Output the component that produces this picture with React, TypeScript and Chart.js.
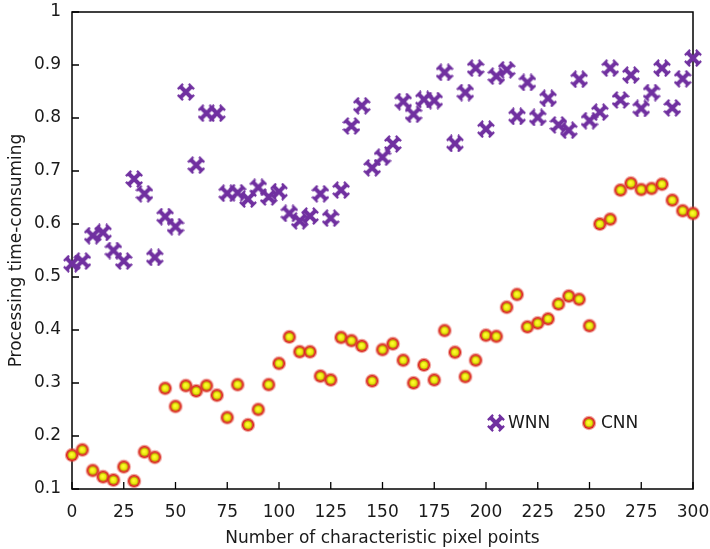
import React, { useEffect, useRef } from "react";
import { Chart, registerables } from "chart.js";

Chart.register(...registerables);

const xValues = [0, 5, 10, 15, 20, 25, 30, 35, 40, 45, 50, 55, 60, 65, 70, 75, 80, 85, 90, 95, 100, 105, 110, 115, 120, 125, 130, 135, 140, 145, 150, 155, 160, 165, 170, 175, 180, 185, 190, 195, 200, 205, 210, 215, 220, 225, 230, 235, 240, 245, 250, 255, 260, 265, 270, 275, 280, 285, 290, 295, 300];

const wnnValues = [0.525, 0.530, 0.578, 0.584, 0.550, 0.530, 0.685, 0.657, 0.537, 0.614, 0.595, 0.849, 0.711, 0.809, 0.809, 0.658, 0.659, 0.647, 0.669, 0.651, 0.661, 0.620, 0.606, 0.615, 0.657, 0.611, 0.664, 0.785, 0.823, 0.706, 0.726, 0.751, 0.831, 0.807, 0.835, 0.833, 0.886, 0.752, 0.848, 0.894, 0.779, 0.879, 0.891, 0.803, 0.867, 0.801, 0.837, 0.787, 0.777, 0.873, 0.795, 0.811, 0.894, 0.834, 0.881, 0.818, 0.848, 0.894, 0.819, 0.874, 0.913];

const cnnValues = [0.164, 0.174, 0.135, 0.123, 0.117, 0.142, 0.115, 0.170, 0.160, 0.290, 0.256, 0.295, 0.285, 0.295, 0.277, 0.235, 0.297, 0.221, 0.250, 0.297, 0.337, 0.387, 0.359, 0.359, 0.313, 0.306, 0.386, 0.380, 0.370, 0.304, 0.363, 0.374, 0.343, 0.300, 0.334, 0.306, 0.399, 0.358, 0.312, 0.343, 0.390, 0.388, 0.443, 0.467, 0.406, 0.413, 0.421, 0.449, 0.464, 0.458, 0.408, 0.600, 0.609, 0.664, 0.677, 0.665, 0.667, 0.675, 0.645, 0.625, 0.620];

const seriesNames = ["WNN", "CNN"];
const xTitle = "Number of characteristic pixel points";
const yTitle = "Processing time-consuming";

const FONT = "'DejaVu Sans', Verdana, sans-serif";
const TEXT = "#1a1a1a";
const FS = 17;

function makeWnnMarker(): HTMLCanvasElement {
  const c = document.createElement("canvas");
  c.width = 18;
  c.height = 18;
  const g = c.getContext("2d")!;
  g.strokeStyle = "#7030a0";
  g.lineCap = "butt";
  g.lineWidth = 4;
  g.beginPath();
  g.moveTo(3.5, 3.5); g.lineTo(14.5, 14.5);
  g.moveTo(14.5, 3.5); g.lineTo(3.5, 14.5);
  g.stroke();
  g.lineWidth = 2.2;
  const caps = [[3.5, 3.5, 1, -1], [14.5, 14.5, 1, -1], [14.5, 3.5, 1, 1], [3.5, 14.5, 1, 1]];
  g.beginPath();
  for (const [x, y, px, py] of caps) {
    const k = 2.6;
    g.moveTo(x + px * k, y + py * k);
    g.lineTo(x - px * k, y - py * k);
  }
  g.stroke();
  return c;
}

function makeCnnMarker(): HTMLCanvasElement {
  const c = document.createElement("canvas");
  c.width = 18;
  c.height = 18;
  const g = c.getContext("2d")!;
  const circ = (r: number, col: string) => {
    g.beginPath();
    g.arc(9, 9, r, 0, Math.PI * 2);
    g.fillStyle = col;
    g.fill();
  };
  circ(7.2, "rgba(225,70,60,0.5)");
  circ(6.0, "#d8261c");
  circ(5.0, "#e64a36");
  circ(4.2, "#b0a000");
  const grad = g.createRadialGradient(8.5, 8.5, 0.5, 9, 9, 3.8);
  grad.addColorStop(0, "#ffff30");
  grad.addColorStop(1, "#e0da00");
  g.beginPath();
  g.arc(9, 9, 3.6, 0, Math.PI * 2);
  g.fillStyle = grad;
  g.fill();
  return c;
}

export default function App() {
  const ref = useRef<HTMLCanvasElement | null>(null);

  useEffect(() => {
    if (!ref.current) return;
    const wnnImg = makeWnnMarker();
    const cnnImg = makeCnnMarker();

    const framePlugin = {
      id: "frame",
      beforeDatasetsDraw(chart: any) {
        const { ctx, chartArea } = chart;
        const { left, right, top, bottom } = chartArea;
        const xs = chart.scales.x;
        const ys = chart.scales.y;
        ctx.save();
        ctx.strokeStyle = "#000";
        ctx.lineWidth = 1.5;
        ctx.strokeRect(left, top, right - left, bottom - top);
        ctx.lineWidth = 1.3;
        ctx.beginPath();
        for (const t of xs.ticks) {
          const px = xs.getPixelForValue(t.value);
          ctx.moveTo(px, bottom);
          ctx.lineTo(px, bottom - 7);
        }
        for (const t of ys.ticks) {
          const py = ys.getPixelForValue(t.value);
          ctx.moveTo(left, py);
          ctx.lineTo(left + 7, py);
        }
        ctx.stroke();
        ctx.restore();
      },
      afterDraw(chart: any) {
        const { ctx, chartArea } = chart;
        const y = chartArea.bottom - 66;
        const x1 = chartArea.right - 197;
        const x2 = chartArea.right - 104;
        ctx.save();
        ctx.drawImage(wnnImg, x1 - 9, y - 9);
        ctx.drawImage(cnnImg, x2 - 9, y - 9);
        ctx.fillStyle = TEXT;
        ctx.font = `${FS}px ${FONT}`;
        ctx.textBaseline = "middle";
        ctx.textAlign = "left";
        ctx.fillText(seriesNames[0], x1 + 12, y + 1);
        ctx.fillText(seriesNames[1], x2 + 12, y + 1);
        ctx.restore();
      },
    };

    const chart = new Chart(ref.current, {
      type: "scatter",
      data: {
        datasets: [
          {
            label: seriesNames[0],
            data: xValues.map((x, i) => ({ x, y: wnnValues[i] })),
            pointStyle: wnnImg as any,
            clip: false as any,
          },
          {
            label: seriesNames[1],
            data: xValues.map((x, i) => ({ x, y: cnnValues[i] })),
            pointStyle: cnnImg as any,
            clip: false as any,
          },
        ],
      },
      options: {
        responsive: false,
        animation: false,
        layout: { padding: { top: 12, right: 17, left: 0, bottom: 0 } },
        plugins: {
          legend: { display: false },
          tooltip: { enabled: false },
        },
        scales: {
          x: {
            type: "linear",
            min: 0,
            max: 300,
            grid: { display: false, drawTicks: false },
            border: { display: false },
            ticks: {
              stepSize: 25,
              padding: 13,
              color: TEXT,
              font: { family: FONT, size: FS },
              maxRotation: 0,
            },
            title: {
              display: true,
              text: xTitle,
              color: TEXT,
              font: { family: FONT, size: FS },
              padding: { top: 0, bottom: 0 },
            },
            afterFit(scale: any) {
              scale.height = 60;
              scale.paddingLeft = 0;
              scale.paddingRight = 0;
            },
          },
          y: {
            type: "linear",
            min: 0.1,
            max: 1,
            grid: { display: false, drawTicks: false },
            border: { display: false },
            ticks: {
              stepSize: 0.1,
              padding: 11,
              color: TEXT,
              font: { family: FONT, size: FS },
              callback: (v: any) => String(Number(Number(v).toFixed(1))),
            },
            title: {
              display: true,
              text: yTitle,
              color: TEXT,
              font: { family: FONT, size: FS },
              padding: { top: 6, bottom: 0 },
            },
            afterFit(scale: any) {
              scale.width = 72;
              scale.paddingTop = 0;
              scale.paddingBottom = 0;
            },
          },
        },
      },
      plugins: [framePlugin],
    });
    return () => chart.destroy();
  }, []);

  return (
    <div style={{ position: "fixed", left: 0, top: 0, width: 710, height: 549, background: "#fff" }}>
      <canvas ref={ref} width={710} height={549} style={{ width: 710, height: 549, display: "block" }} />
    </div>
  );
}
